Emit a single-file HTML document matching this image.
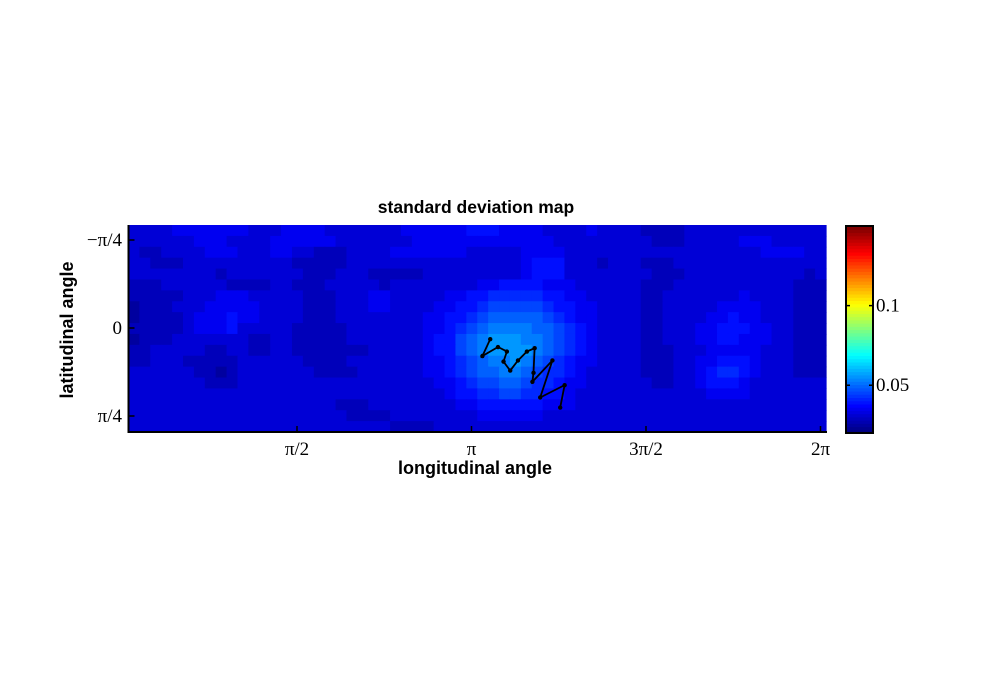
<!DOCTYPE html>
<html><head><meta charset="utf-8"><style>
html,body{margin:0;padding:0;background:#fff;width:989px;height:682px;overflow:hidden}
svg text{font-family:"Liberation Sans",sans-serif}
.tk{font-family:"Liberation Serif",serif;font-size:19px}
</style></head><body>
<svg id="chart" width="989" height="682" viewBox="0 0 989 682" xmlns="http://www.w3.org/2000/svg">
<text x="476" y="213" text-anchor="middle" font-weight="bold" font-size="17.5">standard deviation map</text>
<g id="heat"></g>
<g id="path"></g>
<g id="axes"></g>
<text x="475" y="474" text-anchor="middle" font-weight="bold" font-size="18">longitudinal angle</text>
<text transform="translate(73,330) rotate(-90)" text-anchor="middle" font-weight="bold" font-size="18">latitudinal angle</text>
<g id="cbar"></g>
</svg>
<script>
// data: level grid (19 rows x 64 cols), level k -> value levelBase + k*levelStep
const rowsLeft = [
"222233333332223333222222","222222333222233333322222","211222233322233221112222",
"221112222222222111112222","222222221222222211122211","111222222111122111222221",
"111112223332222211122233","011122233333222211122233","011112333433222211122222",
"111112333422222111112222","011122222221122111112222","112222211221122111111122",
"112221111122222211112222","222222110122222221111222","222222211122222222222222",
"222222222222222222222222","222222222222222222211122","222222222222222222221111",
"222222222222222222222222"];
const rowsMid = [
"23333334443333222232","22333333333333322222","33333332222233332222",
"22222222222234442221","11122222222234442222","22222222334444333222",
"22222334455555443322","22223344566666544332","22233445677777654332",
"22233456788887765432","22234467899988765432","22234467899998765432",
"22233456788987654332","22233456778876554322","22223345667765543322",
"22222344556655443222","22222233444444333222","22222222333333222222",
"11112222222222222222"];
const rowsTail = [
"22211112222222222222","22221112222233322222","22222222222222333322",
"22211122222222222222","22221112222222222212","22211122222222222111",
"22211222222232222111","22211222223333222111","22211222233433222111",
"22211222334443322111","22211222334433322111","22211122233333222111",
"22211122334443222111","22211122345543222111","22221122344432222222",
"22222222233332222222","22222222222222222222","22222222222222222222",
"22222222222222222222"];
const levelBase = 0.024, levelStep = 0.0035;
// colorbar range and ticks
const cMin = 0.02, cMax = 0.15;
const cbTicks = [0.05, 0.1];
const cbTickLabels = ["0.05", "0.1"];
// axes ticks (radians)
const xTicks = [Math.PI/2, Math.PI, 3*Math.PI/2, 2*Math.PI];
const xTickLabels = ["π/2", "π", "3π/2", "2π"];
const yTicks = [-Math.PI/4, 0, Math.PI/4];
const yTickLabels = ["−π/4", "0", "π/4"];
// trajectory (lon, lat in radians)
const pathLon = [3.31,3.24,3.38,3.46,3.43,3.49,3.56,3.64,3.71,3.70,3.69,3.87,3.76,3.98,3.94];
const pathLat = [0.10,0.25,0.17,0.21,0.30,0.38,0.29,0.21,0.18,0.40,0.48,0.29,0.62,0.51,0.71];

const NS = "http://www.w3.org/2000/svg";
const X0 = 122.5, XS = 174.5/(Math.PI/2);
const Y0 = 328, YS = 88/(Math.PI/4);
const xPix = v => X0 + v*XS;
const yPix = v => Y0 + v*YS;
const HL = 128.5, HR = 826, HT = 225, HB = 432;
function jet(t){
  t = Math.max(0, Math.min(1, t));
  const r = Math.max(0, Math.min(1, 1.5 - Math.abs(4*t - 3)));
  const g = Math.max(0, Math.min(1, 1.5 - Math.abs(4*t - 2)));
  const b = Math.max(0, Math.min(1, 1.5 - Math.abs(4*t - 1)));
  return `rgb(${Math.round(r*255)},${Math.round(g*255)},${Math.round(b*255)})`;
}
const cNorm = v => (v - cMin)/(cMax - cMin);
function mk(tag, attrs, parent){
  const e = document.createElementNS(NS, tag);
  for (const k in attrs) e.setAttribute(k, attrs[k]);
  parent.appendChild(e); return e;
}
// heatmap
const heat = document.getElementById('heat');
const nR = rowsLeft.length;
const grid = rowsLeft.map((s,i) => (s + rowsMid[i] + rowsTail[i]).split('').map(c => levelBase + (+c)*levelStep));
const nC = grid[0].length;
const cw = (HR-HL)/nC, ch = (HB-HT)/nR;
grid.forEach((row, i) => row.forEach((v, j) => {
  const r = mk('rect', {x: HL + j*cw, y: HT + i*ch, width: cw+0.6, height: ch+0.6, fill: jet(cNorm(v))}, heat);
  
  
}));
// trajectory
const pg = document.getElementById('path');
const pts = pathLon.map((lo,i) => xPix(lo).toFixed(1)+','+yPix(pathLat[i]).toFixed(1)).join(' ');
const pl = mk('polyline', {points: pts, fill: 'none', stroke: '#000', 'stroke-width': 1.8}, pg);


pathLon.forEach((lo,i) => {
  const c = mk('circle', {cx: xPix(lo), cy: yPix(pathLat[i]), r: 2.2, fill: '#000'}, pg);
  
  
});
// axes
const ax = document.getElementById('axes');
mk('line', {x1: HL, y1: HT, x2: HL, y2: HB+1, stroke: '#000', 'stroke-width': 2}, ax);
mk('line', {x1: HL-1, y1: HB, x2: HR+1, y2: HB, stroke: '#000', 'stroke-width': 2}, ax);
xTicks.forEach((v,i) => {
  const x = xPix(v);
  mk('line', {x1: x, y1: HB, x2: x, y2: HB-6, stroke: '#000', 'stroke-width': 1.5}, ax);
  const t = mk('text', {x: x, y: 455, 'text-anchor': 'middle', class: 'tk'}, ax);
  t.textContent = xTickLabels[i];
  
  
});
yTicks.forEach((v,i) => {
  const y = yPix(v);
  mk('line', {x1: HL, y1: y, x2: HL+6, y2: y, stroke: '#000', 'stroke-width': 1.5}, ax);
  const t = mk('text', {x: 122, y: y+6, 'text-anchor': 'end', class: 'tk'}, ax);
  t.textContent = yTickLabels[i];
  
  
});
// colorbar
const cb = document.getElementById('cbar');
const CL = 846, CR = 873, CT = 226, CB = 433;
const cbY = v => CB - cNorm(v)*(CB-CT);
const nSeg = 64;
for (let k = 0; k < nSeg; k++){
  const v0 = cMin + (cMax-cMin)*k/nSeg;
  const s = mk('rect', {x: CL, y: cbY(v0 + (cMax-cMin)/nSeg), width: CR-CL, height: (CB-CT)/nSeg + 0.6, fill: jet(k/(nSeg-1))}, cb);
  
  
}
mk('rect', {x: CL, y: CT, width: CR-CL, height: CB-CT, fill: 'none', stroke: '#000', 'stroke-width': 2}, cb);
cbTicks.forEach((v,i) => {
  const y = cbY(v);
  mk('line', {x1: CL, y1: y, x2: CL+4, y2: y, stroke: '#000', 'stroke-width': 1.5}, cb);
  mk('line', {x1: CR-4, y1: y, x2: CR, y2: y, stroke: '#000', 'stroke-width': 1.5}, cb);
  const t = mk('text', {x: 876, y: y+6, class: 'tk'}, cb);
  t.textContent = cbTickLabels[i];
  
  
});
</script>
</body></html>
